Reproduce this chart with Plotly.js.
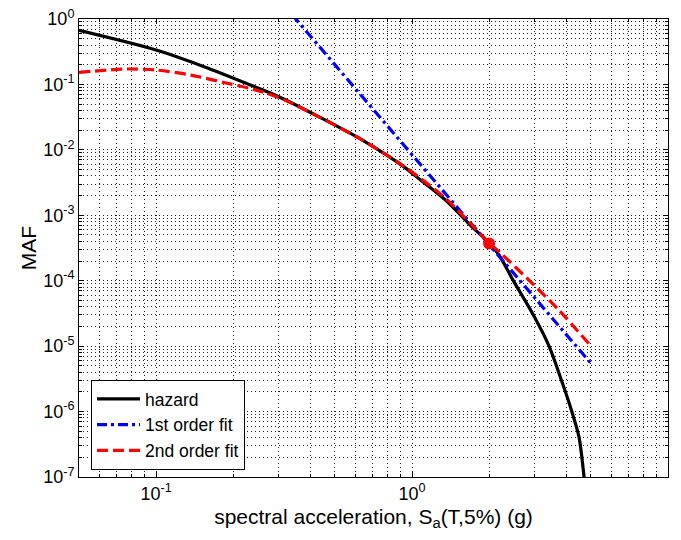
<!DOCTYPE html>
<html>
<head>
<meta charset="utf-8">
<script src="https://cdn.plot.ly/plotly-3.0.1.min.js"></script>
<style>html,body{margin:0;padding:0;background:#fff;}#chart{width:681px;height:540px;}</style>
</head>
<body>
<div id="chart"></div>
<script>
// Hazard curve (black)
const hazardSa  = [0.05, 0.1, 0.154, 0.238, 0.302, 0.433, 0.64, 0.93, 1.0, 1.355, 1.72, 2.0, 2.19, 2.48, 2.95, 3.43, 3.87, 4.21, 4.49, 4.70, 4.78];
const hazardMAF = [0.67, 0.336, 0.187, 0.0955, 0.065, 0.032, 0.0141, 0.0055, 0.0044, 0.0017, 6.6e-4, 3.8e-4, 2.45e-4, 1.02e-4, 3.2e-5, 1.0e-5, 2.7e-6, 1.0e-6, 4.1e-7, 1.0e-7, 5e-8];

// 1st order fit (blue, dash-dot)
const fit1Sa  = [0.34, 0.446, 1.0, 2.0, 3.0, 5.0];
const fit1MAF = [1.16, 0.337, 8.45e-3, 3.57e-4, 5.6e-5, 5.46e-6];

// 2nd order fit (red, dashed)
const fit2Sa  = [0.05, 0.0773, 0.1, 0.137, 0.184, 0.238, 0.302, 0.433, 0.64, 0.93, 1.355, 1.72, 2.0, 2.19, 2.95, 3.75, 5.0];
const fit2MAF = [0.153, 0.172, 0.166, 0.139, 0.107, 0.085, 0.063, 0.032, 0.0141, 0.0056, 0.0018, 7.0e-4, 3.8e-4, 2.77e-4, 9.1e-5, 3.55e-5, 1.0e-5];

// Fit point (red dot)
const pointSa  = [2.0];
const pointMAF = [3.7e-4];

// Axis ticks
const xMajor = [0.1, 1, 10];
const xMajorText = ['10<sup>-1</sup>', '10<sup>0</sup>', '10<sup>1</sup>'];
const yMajor = [1e-7, 1e-6, 1e-5, 1e-4, 1e-3, 1e-2, 1e-1, 1];
const yMajorText = ['10<sup>-7</sup>', '10<sup>-6</sup>', '10<sup>-5</sup>', '10<sup>-4</sup>', '10<sup>-3</sup>', '10<sup>-2</sup>', '10<sup>-1</sup>', '10<sup>0</sup>'];
const mantissas = [2, 3, 4, 5, 6, 7, 8, 9];
const xMinor = [];
[0.01, 0.1, 1].forEach(d => mantissas.forEach(m => xMinor.push(m * d)));
const yMinor = [];
[1e-7, 1e-6, 1e-5, 1e-4, 1e-3, 1e-2, 1e-1].forEach(d => mantissas.forEach(m => yMinor.push(m * d)));

const FONT = 'Liberation Sans, Arial, Helvetica, sans-serif';
const TICK_FS = 18, TITLE_FS = 21, LEG_FS = 17.5;

const traces = [
  {x: hazardSa, y: hazardMAF, mode: 'lines', name: 'hazard',
   line: {color: '#000000', width: 3.2, shape: 'spline', smoothing: 0.8}},
  {x: fit1Sa, y: fit1MAF, mode: 'lines', name: '1st order fit',
   line: {color: '#0000ff', width: 3.2, dash: '10px,4px,3px,4px'}},
  {x: fit2Sa, y: fit2MAF, mode: 'lines', name: '2nd order fit',
   line: {color: '#ff0000', width: 3.2, dash: '11px,5px', shape: 'spline', smoothing: 0.8}},
  {x: pointSa, y: pointMAF, mode: 'markers', showlegend: false,
   marker: {color: '#ff0000', size: 12}}
];

const axisCommon = {
  type: 'log',
  showline: true, linecolor: '#000', linewidth: 1, mirror: 'ticks',
  ticks: 'inside', ticklen: 5, tickcolor: '#000', tickwidth: 1,
  showgrid: true, gridcolor: '#222', gridwidth: 1, griddash: '1px,3px',
  zeroline: false,
  tickfont: {family: FONT, size: TICK_FS, color: '#000'},
  tickmode: 'array'
};

const layout = {
  width: 681, height: 540,
  margin: {l: 79, r: 13, t: 19, b: 63},
  paper_bgcolor: '#fff', plot_bgcolor: '#fff',
  font: {family: FONT, size: TICK_FS, color: '#000'},
  showlegend: true,
  legend: {x: 0.0204, y: 0.0153, xanchor: 'left', yanchor: 'bottom',
           bgcolor: '#fff', bordercolor: '#000', borderwidth: 1,
           font: {family: FONT, size: LEG_FS, color: '#000'},
           itemwidth: 43, tracegroupgap: 0},
  xaxis: Object.assign({}, axisCommon, {
    range: [Math.log10(0.05), 1],
    tickvals: xMajor, ticktext: xMajorText,
    minor: {tickmode: 'array', tickvals: xMinor, ticks: 'inside', ticklen: 3, tickcolor: '#000',
            showgrid: true, gridcolor: '#222', gridwidth: 1, griddash: '1px,3px'},
    title: {text: 'spectral acceleration, S<sub>a</sub>(T,5%) (g)', font: {family: FONT, size: TITLE_FS, color: '#000'}, standoff: 6}
  }),
  yaxis: Object.assign({}, axisCommon, {
    range: [-7, 0],
    tickvals: yMajor, ticktext: yMajorText,
    minor: {tickmode: 'array', tickvals: yMinor, ticks: 'inside', ticklen: 3, tickcolor: '#000',
            showgrid: true, gridcolor: '#222', gridwidth: 1, griddash: '1px,3px'},
    title: {text: 'MAF', font: {family: FONT, size: TITLE_FS, color: '#000'}, standoff: 0}
  })
};

Plotly.newPlot('chart', traces, layout, {displayModeBar: false, staticPlot: true});
</script>
</body>
</html>
